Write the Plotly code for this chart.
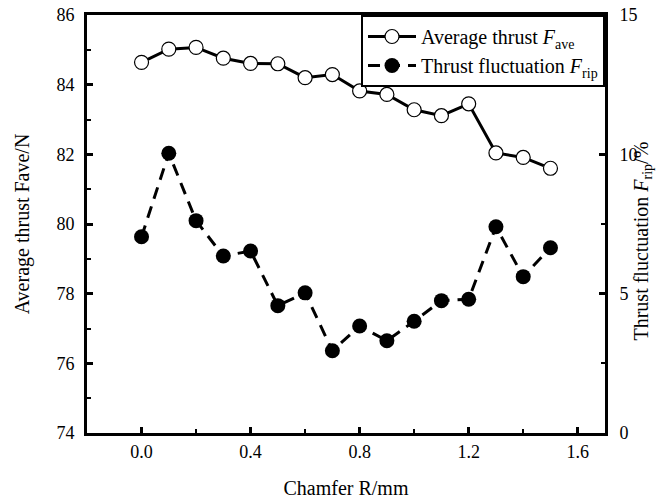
import plotly.graph_objects as go

# Chamfer radius (mm)
chamfer_r = [0.0, 0.1, 0.2, 0.3, 0.4, 0.5, 0.6, 0.7, 0.8, 0.9, 1.0, 1.1, 1.2, 1.3, 1.4, 1.5]

# Average thrust (N), left axis
avg_thrust = [84.64, 85.02, 85.07, 84.76, 84.61, 84.60, 84.20, 84.29,
              83.82, 83.72, 83.28, 83.11, 83.45, 82.04, 81.91, 81.60]

# Thrust fluctuation (%), right axis
thrust_rip = [7.04, 10.04, 7.62, 6.35, 6.53, 4.57, 5.03, 2.95,
              3.84, 3.31, 4.01, 4.75, 4.80, 7.40, 5.61, 6.65]

x_ticks = [0.0, 0.4, 0.8, 1.2, 1.6]
x_ticktext = ["0.0", "0.4", "0.8", "1.2", "1.6"]
y_ticks = [74, 76, 78, 80, 82, 84, 86]
y2_ticks = [0, 5, 10, 15]

FONT = "Liberation Serif, Times New Roman, serif"

fig = go.Figure()

fig.add_trace(go.Scatter(
    x=chamfer_r, y=avg_thrust,
    name="Average thrust <i>F</i><sub>ave</sub>",
    mode="lines+markers",
    line=dict(color="black", width=3),
    marker=dict(symbol="circle", size=14, color="white",
                line=dict(color="black", width=1.2)),
    yaxis="y",
))

fig.add_trace(go.Scatter(
    x=chamfer_r, y=thrust_rip,
    name="Thrust fluctuation <i>F</i><sub>rip</sub>",
    mode="lines+markers",
    line=dict(color="black", width=3, dash="12px,8px"),
    marker=dict(symbol="circle", size=15, color="black",
                line=dict(color="black", width=0)),
    yaxis="y2",
))

axis_common = dict(
    showline=True, linecolor="black", linewidth=3,
    ticks="inside", ticklen=6, tickwidth=2.5, tickcolor="black",
    showgrid=False, zeroline=False,
    tickfont=dict(family=FONT, size=18, color="black"),
)

fig.update_layout(
    width=667, height=502,
    margin=dict(l=87, r=62, t=15, b=69),
    paper_bgcolor="white", plot_bgcolor="white",
    font=dict(family=FONT, color="black"),
    xaxis=dict(
        **axis_common,
        range=[-0.2, 1.7],
        tickvals=x_ticks, ticktext=x_ticktext,
        minor=dict(dtick=0.2, tick0=0, ticks="inside", ticklen=4,
                   tickwidth=2, tickcolor="black"),
        mirror=True,
        ticklabelstandoff=0,
        title=dict(text="Chamfer R/mm", font=dict(family=FONT, size=20),
                   standoff=21),
        automargin=False,
    ),
    yaxis=dict(
        **axis_common,
        range=[74, 86],
        tickvals=y_ticks,
        minor=dict(dtick=1, tick0=74, ticks="inside", ticklen=4,
                   tickwidth=2, tickcolor="black"),
        mirror=True,
        ticklabelstandoff=6,
        title=dict(text="Average thrust Fave/N",
                   font=dict(family=FONT, size=20), standoff=22),
        automargin=False,
    ),
    yaxis2=dict(
        **axis_common,
        overlaying="y", side="right",
        range=[0, 15],
        tickvals=y2_ticks,
        minor=dict(dtick=2.5, tick0=0, ticks="inside", ticklen=4,
                   tickwidth=2, tickcolor="black"),
        ticklabelstandoff=8,
        automargin=False,
    ),
    legend=dict(
        x=1, y=1, xanchor="right", yanchor="top",
        bgcolor="white", bordercolor="black", borderwidth=2,
        font=dict(family=FONT, size=20, color="black"),
        itemwidth=48, tracegroupgap=0,
    ),
    showlegend=True,
)

# Right-axis title, placed just beyond the tick labels
fig.add_annotation(
    text="Thrust fluctuation <i>F</i><sub>rip</sub>/%",
    xref="paper", yref="paper", x=1.073, y=0.46,
    xanchor="center", yanchor="middle", textangle=-90,
    showarrow=False, font=dict(family=FONT, size=20, color="black"),
)

fig.write_html("out.html")
